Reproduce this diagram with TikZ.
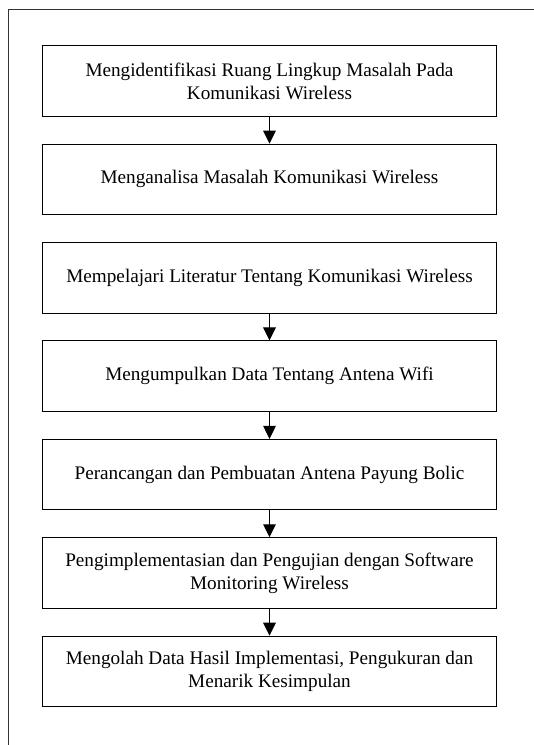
\documentclass[tikz,border=0pt]{standalone}
\usepackage{fontspec}
\setmainfont{Liberation Serif}
\usepackage{tikz}
\usetikzlibrary{arrows.meta,positioning}
\definecolor{framegray}{HTML}{333333}
\tikzset{
  block/.style={rectangle,draw=black,line width=0.5pt,
    minimum width=227pt,minimum height=35.25pt,align=center,
    font=\fontsize{9.6}{11.5}\selectfont},
  arrow/.style={-{Triangle[length=6.5pt,width=6.3pt]},line width=0.5pt,draw=black},
  frame/.style={line width=0.5pt,draw=framegray}
}

\begin{document}
\begin{tikzpicture}[x=0.5pt,y=-0.5pt,node distance=13.45pt]
\useasboundingbox (0,0) rectangle (534,745);
\draw[frame] (8,745) -- (8,9) -- (534,9);
\node[block] (scope) at (269.5,81) {Mengidentifikasi Ruang Lingkup Masalah Pada\\Komunikasi Wireless};
\node[block,below=of scope] (analisa) {Menganalisa Masalah Komunikasi Wireless};
\node[block,below=of analisa] (literatur) {Mempelajari Literatur Tentang Komunikasi Wireless};
\node[block,below=of literatur] (datawifi) {Mengumpulkan Data Tentang Antena Wifi};
\node[block,below=of datawifi] (rancang) {Perancangan dan Pembuatan Antena Payung Bolic};
\node[block,below=of rancang] (uji) {Pengimplementasian dan Pengujian dengan Software\\Monitoring Wireless};
\node[block,below=of uji] (olah) {Mengolah Data Hasil Implementasi, Pengukuran dan\\Menarik Kesimpulan};
\draw[arrow] (scope) -- (analisa);
\draw[arrow] (literatur) -- (datawifi);
\draw[arrow] (datawifi) -- (rancang);
\draw[arrow] (rancang) -- (uji);
\draw[arrow] (uji) -- (olah);
\end{tikzpicture}
\end{document}
